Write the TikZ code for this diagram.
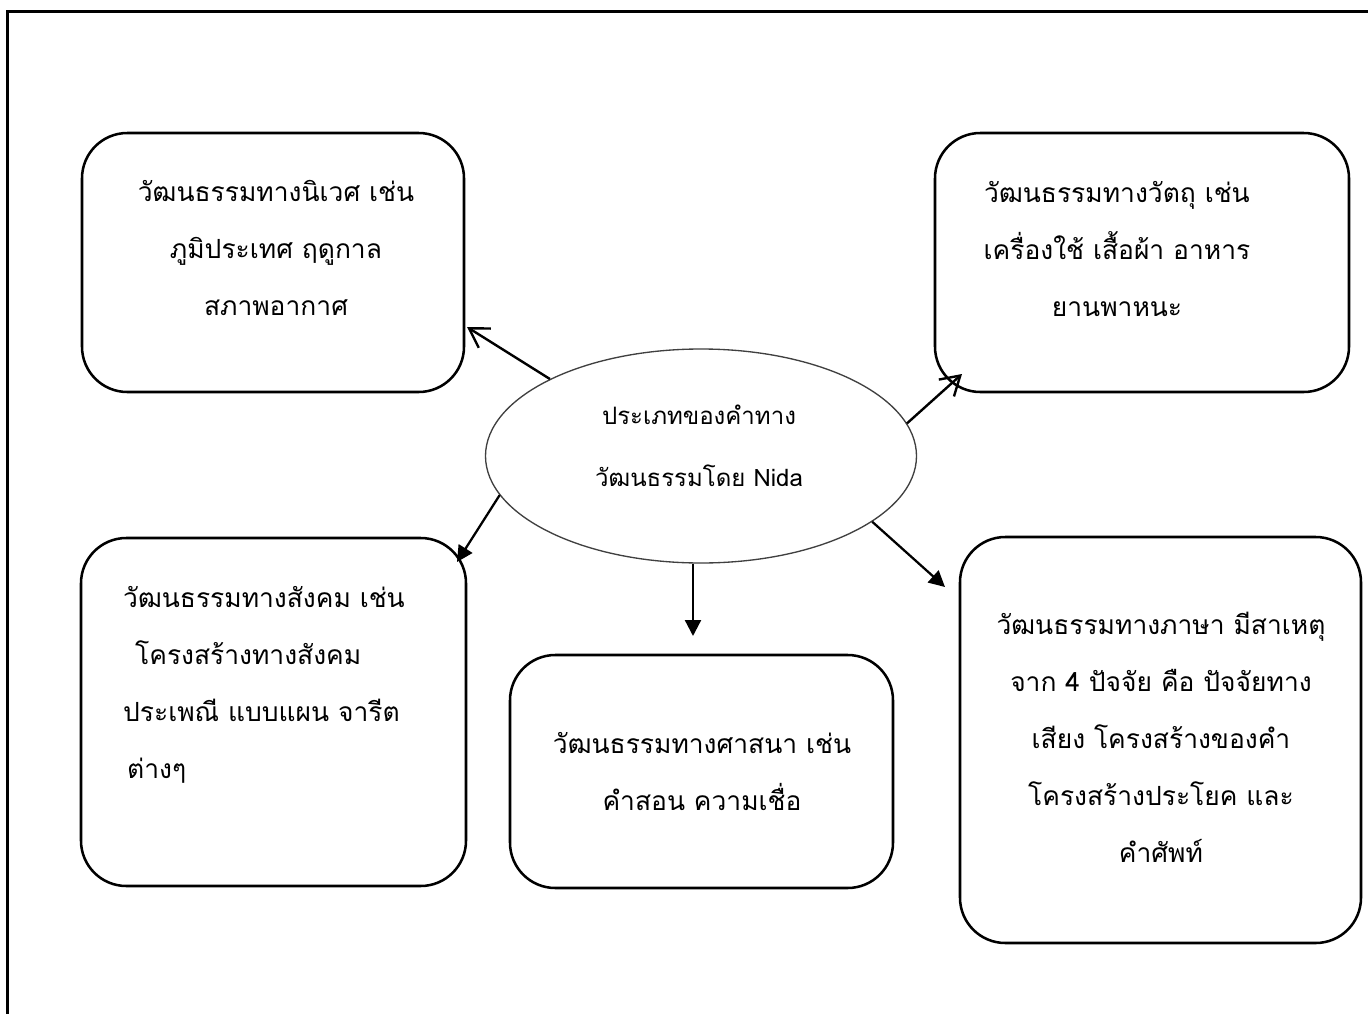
\documentclass[tikz,border=0pt]{standalone}
\usepackage{fontspec}
\newfontfamily\thaifont[Script=Thai]{Loma}
\usetikzlibrary{shapes.geometric,arrows.meta,calc}
\tikzset{
  box/.style={draw=black, line width=1.9pt, rounded corners=34pt, inner sep=0pt},
  txt/.style={font=\thaifont\fontsize{19.8}{42.75}\selectfont, align=center, inner sep=0pt},
  etxt/.style={font=\thaifont\fontsize{18}{46.5}\selectfont, align=center, inner sep=0pt},
  openarr/.style={line width=1.8pt, -{Straight Barb[length=14pt,width=17pt,line width=1.8pt]}},
  fillarr/.style={line width=1.7pt, -{Triangle[length=12pt,width=12pt]}},
}
\begin{document}
\begin{tikzpicture}[x=0.75pt,y=-0.75pt]
\useasboundingbox (0,0) rectangle (1368,1014);
\fill[white] (0,0) rectangle (1368,1014);
% outer frame (cropped)
\draw[line width=2.4pt] (1380,11.5) -- (7.5,11.5) -- (7.5,1030);

% boxes
\node[box, minimum width=286.5pt, minimum height=194.25pt] (b1) at (273,262.5) {};
\node[box, minimum width=310.5pt, minimum height=194.25pt] (b2) at (1142,262.5) {};
\node[box, minimum width=288.75pt, minimum height=261pt] (b3) at (273.5,712) {};
\node[box, minimum width=287.25pt, minimum height=174.75pt] (b4) at (701.5,771.5) {};
\node[box, minimum width=300.75pt, minimum height=304.5pt] (b5) at (1160.5,740) {};

% ellipse
\node[draw=black!75, line width=1pt, ellipse, minimum width=323.25pt, minimum height=160.5pt, inner sep=0pt] (e) at (701,456) {};

% texts
\node[txt] (x1) at (276,248) {วัฒนธรรมทางนิเวศ เช่น\\ภูมิประเทศ ฤดูกาล\\สภาพอากาศ};
\node[txt] (x2) at (1117,249) {วัฒนธรรมทางวัตถุ เช่น\\เครื่องใช้ เสื้อผ้า อาหาร\\ยานพาหนะ};
\node[txt, align=left] (x3) at (264,685) {วัฒนธรรมทางสังคม เช่น\\\hspace*{9pt}โครงสร้างทางสังคม\\ประเพณี แบบแผน จารีต\\\hspace*{3pt}ต่างๆ};
\node[txt] (x4) at (702,772) {วัฒนธรรมทางศาสนา เช่น\\คำสอน ความเชื่อ};
\node[txt] (x5) at (1161,737) {วัฒนธรรมทางภาษา มีสาเหตุ\\จาก 4 ปัจจัย คือ ปัจจัยทาง\\เสียง โครงสร้างของคำ\\โครงสร้างประโยค และ\\คำศัพท์};
\node[etxt] (xe) at (699,446) {ประเภทของคำทาง\\วัฒนธรรมโดย Nida};

% arrow tips
\coordinate (t1) at (467,327);
\coordinate (t2) at (962,374);
\coordinate (t3) at (457,562);
\coordinate (t4) at (693,636);
\coordinate (t5) at (945,587);

\draw[openarr] (e.153.6) -- (t1);
\draw[openarr] (e.9.5) -- (t2);
\draw[fillarr] (e.191.8) -- (t3);
\draw[fillarr] (e.south -| t4) -- (t4);
\draw[fillarr] (e.339.4) -- (t5);
\end{tikzpicture}
\end{document}
